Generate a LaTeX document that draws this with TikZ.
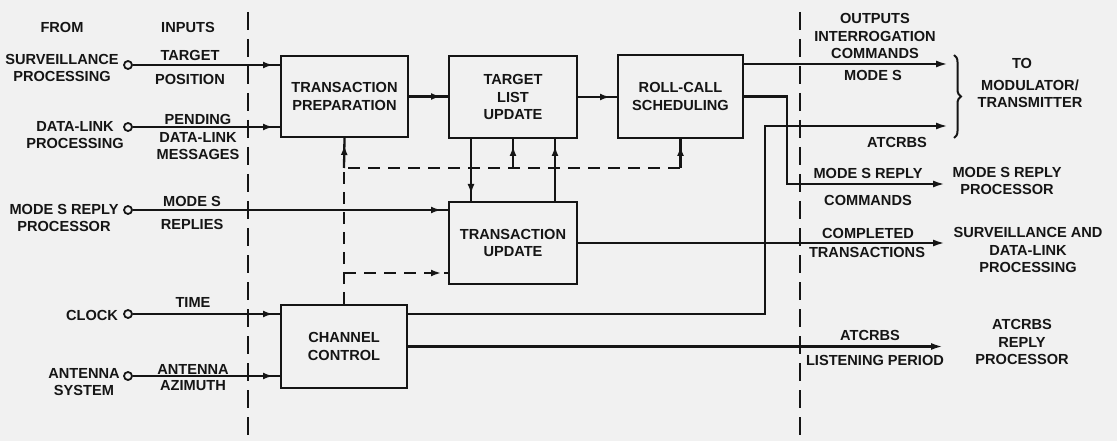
\documentclass[tikz,border=0pt]{standalone}
\usepackage{fontspec}
\setmainfont{Liberation Sans}
\usetikzlibrary{arrows.meta,decorations.markings,decorations.pathreplacing,calc}
\definecolor{ink}{HTML}{151515}
\definecolor{bgc}{HTML}{F1F1F1}
\begin{document}
\begin{tikzpicture}[x=1pt,y=-1pt,
  every node/.style={font=\fontsize{14.6}{17.5}\selectfont\bfseries, text=ink, inner sep=0pt},
  ln/.style={draw=ink, line width=2.3pt},
  boxst/.style={draw=ink, line width=2pt, align=center, inner sep=2pt},
  lbl/.style={align=center},
  inarr/.style={postaction={decorate}, decoration={markings, mark=at position -7pt with {\arrow{Latex[length=10pt,width=7pt]}}}},
  outarr/.style={-{Latex[length=12pt,width=7pt]}},
  ctl/.style={dash pattern=on 12pt off 8pt},
  sepline/.style={draw=ink, line width=2.3pt, dash pattern=on 18pt off 9pt},
  port/.style={circle, draw=ink, fill=bgc, inner sep=0pt, minimum size=8pt, line width=1.8pt},
]
\fill[bgc] (0,0) rectangle (1117,441);
\useasboundingbox (0,0) rectangle (1117,441);

% separators
\draw[sepline] (248,12) -- (248,441);
\draw[sepline] (800,12) -- (800,441);

% headers
\node[lbl] (from) at (62,27) {FROM};
\node[lbl] (inputs) at (188,27) {INPUTS};
\node[lbl] (outputs) at (875,36) {OUTPUTS\\INTERROGATION\\COMMANDS};

% sources
\node[lbl] (src1) at (62,68) {SURVEILLANCE\\PROCESSING};
\node[lbl] (src2) at (75,135) {DATA-LINK\\PROCESSING};
\node[lbl] (src3) at (64,218) {MODE S REPLY\\PROCESSOR};
\node[lbl] (src4) at (92,315) {CLOCK};
\node[lbl] (src5) at (84,382) {ANTENNA\\SYSTEM};

\node[port] (c1) at (128,65) {};
\node[port] (c2) at (128,127) {};
\node[port] (c3) at (128,210) {};
\node[port] (c4) at (128,314) {};
\node[port] (c5) at (128,376) {};

% boxes
\node[boxst, minimum width=127pt, minimum height=81pt] (tp) at (344.5,96.5) {TRANSACTION\\PREPARATION};
\node[boxst, minimum width=128pt, minimum height=82pt] (tlu) at (513,97) {TARGET\\LIST\\UPDATE};
\node[boxst, minimum width=125pt, minimum height=83pt] (rcs) at (680.5,96.5) {ROLL-CALL\\SCHEDULING};
\node[boxst, minimum width=128pt, minimum height=82pt] (tu) at (513,243) {TRANSACTION\\UPDATE};
\node[boxst, minimum width=126pt, minimum height=83pt] (cc) at (344,346.5) {CHANNEL\\CONTROL};

% input labels
\node[lbl] (l1a) at (190,55) {TARGET};
\node[lbl] (l1b) at (190,79) {POSITION};
\node[lbl] (l2a) at (198,119) {PENDING};
\node[lbl] (l2b) at (198,146) {DATA-LINK\\MESSAGES};
\node[lbl] (l3a) at (192,201) {MODE S};
\node[lbl] (l3b) at (192,224) {REPLIES};
\node[lbl] (l4) at (193,302) {TIME};
\node[lbl] (l5a) at (193,369) {ANTENNA};
\node[lbl] (l5b) at (193,386) {AZIMUTH};

% input connectors
\draw[ln, inarr] (c1) -- (c1 -| tp.west);
\draw[ln, inarr] (c2) -- (c2 -| tp.west);
\draw[ln, inarr] (c3) -- (c3 -| tu.west);
\draw[ln, inarr] (c4) -- (c4 -| cc.west);
\draw[ln, inarr] (c5) -- (c5 -| cc.west);

% chain
\draw[ln, inarr] (tp.east) -- (tp.east -| tlu.west);
\draw[ln, inarr] (tlu.east) -- (tlu.east -| rcs.west);

% TLU <-> TU
\coordinate (va) at (471,0);
\coordinate (vb) at (555,0);
\draw[ln, inarr] (tlu.south -| va) -- (tu.north -| va);
\draw[ln, inarr] (tu.north -| vb) -- (tlu.south -| vb);

% control (dashed) lines
\coordinate (j) at (cc.north |- 0,168);
\coordinate (k) at (cc.north |- 0,273);
\draw[ln, ctl] (cc.north) -- (j) -- (j -| rcs.south);
\draw[ln, inarr] (j) -- (tp.south);
\draw[ln, inarr] (j -| tlu.south) -- (tlu.south);
\draw[ln, inarr] (j -| rcs.south) -- (rcs.south);
\draw[ln, ctl, inarr] (k) -- (k -| tu.west);

% outputs
\coordinate (o1) at (948,64);
\coordinate (o2) at (948,126);
\coordinate (o3) at (945,184);
\coordinate (o4) at (945,243);
\coordinate (o5) at (943,346.5);
\draw[ln, outarr] (rcs.east |- o1) -- (o1);
\draw[ln, outarr] (rcs.east) -- (787,96.5) |- (o3);
\draw[ln, outarr] (cc.east |- c4) -| (765,126) -- (o2);
\draw[ln, outarr] (tu.east) -- (o4);
\draw[ln, outarr] (cc.east) -- (o5);

% brace
\draw[draw=ink, line width=2pt, decorate, decoration={brace, amplitude=7pt}] (954,55) -- (954,138);

% output labels
\node[lbl] (m1) at (873,75) {MODE S};
\node[lbl] (m2) at (897,142) {ATCRBS};
\node[lbl] (m3a) at (868,173) {MODE S REPLY};
\node[lbl] (m3b) at (868,200) {COMMANDS};
\node[lbl] (m4a) at (868,233) {COMPLETED};
\node[lbl] (m4b) at (867,252) {TRANSACTIONS};
\node[lbl] (m5a) at (870,335) {ATCRBS};
\node[lbl] (m5b) at (875,360) {LISTENING PERIOD};

% destinations
\node[lbl] (to) at (1022,63) {TO};
\node[lbl] (d1) at (1030,94) {MODULATOR/\\TRANSMITTER};
\node[lbl] (d2) at (1007,181) {MODE S REPLY\\PROCESSOR};
\node[lbl] (d3) at (1028,250) {SURVEILLANCE AND\\DATA-LINK\\PROCESSING};
\node[lbl] (d4) at (1022,342) {ATCRBS\\REPLY\\PROCESSOR};
\end{tikzpicture}
\end{document}
